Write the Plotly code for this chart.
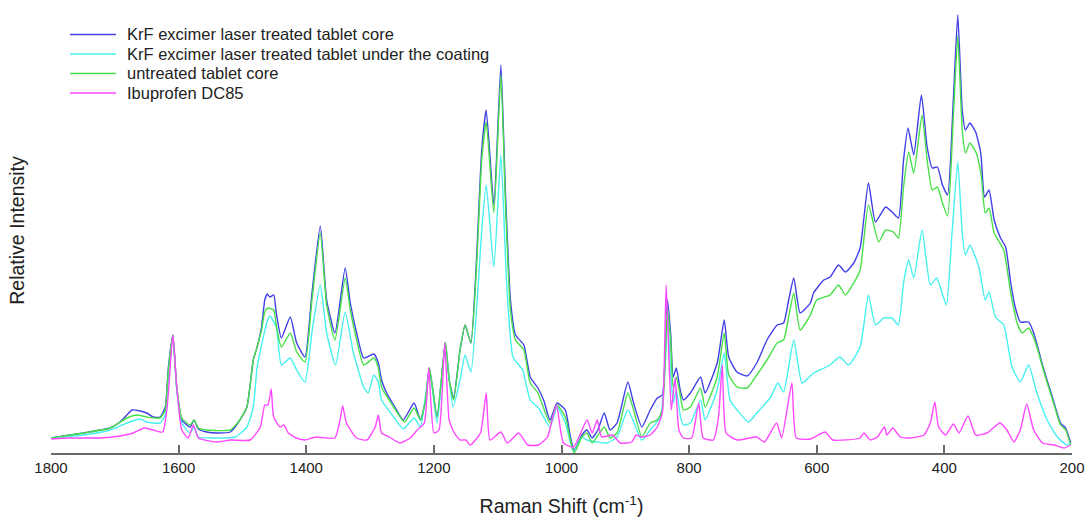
import plotly.graph_objects as go

# ---------------- data (Raman shift in cm-1, relative intensity in arbitrary units) ----------------
core_x = [1800, 1770, 1749, 1723, 1707, 1692, 1681, 1673, 1660, 1650, 1640, 1629, 1621, 1616, 1609, 1603,
          1595, 1582, 1576, 1569, 1556, 1540, 1519, 1504, 1493, 1483, 1477, 1470, 1465, 1461, 1457, 1451,
          1447, 1439, 1425, 1415, 1402, 1391, 1378, 1368, 1355, 1339, 1331, 1321, 1310, 1294, 1287, 1282,
          1274, 1263, 1248, 1231, 1221, 1213, 1207, 1195, 1182, 1176, 1169, 1159, 1151, 1142, 1133, 1125,
          1118, 1106, 1095, 1088, 1080, 1072, 1059, 1049, 1037, 1028, 1018, 1007, 994, 986, 980, 968,
          960, 952, 943, 933, 924, 913, 896, 887, 874, 861, 850, 842, 837, 834, 829, 825,
          820, 814, 809, 798, 782, 775, 756, 745, 738, 725, 709, 694, 678, 662, 652, 644,
          636, 626, 610, 605, 589, 579, 566, 555, 542, 532, 519, 508, 492, 482, 472, 464,
          457, 448, 436, 427, 419, 411, 403, 395, 386, 379, 372, 367, 360, 351, 343, 337,
          330, 322, 312, 304, 296, 289, 281, 268, 260, 244, 228, 218, 210, 202]
core_y = [15, 18, 20, 23, 25, 31, 38, 43, 42, 40, 36, 36, 46, 86, 118, 66,
          33, 26, 33, 24, 21, 20, 21, 33, 46, 93, 106, 126, 153, 159, 156, 158,
          140, 115, 136, 110, 96, 160, 227, 153, 120, 185, 150, 120, 95, 99, 90, 73,
          60, 48, 33, 50, 33, 53, 85, 36, 110, 73, 55, 103, 128, 110, 196, 303,
          343, 248, 388, 263, 153, 118, 108, 76, 65, 53, 33, 50, 43, 16, 3, 18,
          23, 15, 23, 40, 23, 30, 71, 50, 26, 43, 55, 58, 110, 153, 120, 76,
          85, 63, 53, 60, 76, 60, 90, 133, 96, 81, 77, 90, 113, 128, 130, 153,
          175, 140, 150, 160, 173, 176, 188, 181, 190, 205, 270, 231, 246, 241, 235, 293,
          325, 298, 358, 306, 285, 286, 268, 258, 353, 438, 343, 323, 330, 321, 300, 256,
          263, 233, 215, 206, 170, 146, 131, 131, 120, 83, 50, 30, 25, 10]

coat_x = [1800, 1749, 1707, 1681, 1660, 1650, 1629, 1621, 1616, 1609, 1603, 1595, 1582, 1576, 1569, 1540,
          1511, 1493, 1483, 1477, 1470, 1462, 1457, 1447, 1439, 1425, 1415, 1402, 1390, 1378, 1368, 1354,
          1339, 1326, 1310, 1303, 1294, 1287, 1282, 1263, 1248, 1231, 1221, 1207, 1195, 1182, 1170, 1159,
          1151, 1142, 1131, 1125, 1118, 1106, 1095, 1086, 1076, 1061, 1049, 1036, 1018, 1007, 994, 981,
          968, 960, 944, 929, 913, 896, 874, 861, 845, 837, 834, 829, 825, 820, 814, 809,
          798, 782, 775, 756, 745, 736, 725, 707, 694, 672, 661, 652, 636, 623, 605, 579,
          564, 550, 532, 519, 508, 495, 482, 472, 464, 456, 448, 435, 422, 412, 397, 388,
          379, 372, 367, 360, 346, 336, 330, 320, 307, 294, 281, 268, 255, 239, 223, 208, 202]
coat_y = [15, 18, 23, 30, 34, 31, 30, 38, 78, 116, 63, 30, 20, 26, 16, 15,
          16, 26, 46, 86, 108, 130, 137, 126, 88, 95, 83, 71, 126, 168, 120, 88,
          141, 100, 66, 60, 78, 71, 53, 36, 24, 35, 26, 83, 30, 106, 46, 73,
          98, 81, 163, 223, 268, 186, 298, 170, 96, 83, 53, 45, 26, 46, 30, 1,
          16, 13, 11, 10, 16, 43, 13, 23, 36, 93, 141, 83, 50, 63, 38, 28,
          30, 53, 33, 63, 100, 53, 43, 31, 40, 56, 70, 61, 113, 70, 80, 88,
          96, 88, 106, 158, 128, 135, 135, 128, 170, 193, 175, 223, 168, 175, 148, 220,
          291, 220, 198, 208, 186, 153, 161, 136, 128, 86, 71, 88, 60, 33, 16, 8, 10]

untreated_x = [1800, 1749, 1707, 1681, 1665, 1650, 1629, 1621, 1616, 1609, 1603, 1595, 1582, 1576, 1569, 1556,
               1519, 1504, 1493, 1483, 1477, 1470, 1465, 1460, 1451, 1447, 1439, 1425, 1415, 1402, 1391, 1378,
               1368, 1355, 1339, 1331, 1321, 1310, 1294, 1287, 1282, 1263, 1246, 1231, 1221, 1213, 1207, 1195,
               1182, 1176, 1169, 1159, 1151, 1142, 1133, 1125, 1118, 1106, 1095, 1088, 1080, 1072, 1059, 1049,
               1037, 1018, 1007, 994, 986, 980, 968, 960, 952, 933, 924, 913, 896, 887, 874, 861,
               850, 842, 837, 834, 829, 825, 820, 814, 809, 798, 782, 775, 756, 745, 738, 725,
               709, 694, 678, 662, 652, 644, 636, 626, 610, 600, 579, 566, 555, 542, 532, 519,
               503, 492, 480, 472, 464, 456, 448, 435, 427, 419, 411, 403, 395, 386, 379, 372,
               367, 360, 350, 342, 336, 330, 322, 307, 296, 286, 278, 268, 257, 244, 228, 218, 210, 202]
untreated_y = [15, 20, 25, 35, 38, 36, 35, 43, 83, 118, 66, 35, 28, 33, 25, 23,
               23, 33, 46, 93, 106, 123, 141, 145, 143, 128, 106, 120, 101, 91, 153, 220,
               148, 113, 175, 143, 113, 88, 95, 85, 66, 46, 31, 45, 33, 53, 85, 36,
               111, 73, 53, 103, 128, 110, 188, 293, 331, 240, 378, 253, 143, 113, 103, 70,
               60, 30, 48, 36, 13, 0, 16, 20, 10, 26, 15, 20, 60, 43, 16, 30,
               33, 43, 103, 146, 113, 66, 76, 58, 43, 46, 65, 46, 76, 120, 78, 66,
               65, 78, 93, 110, 113, 136, 160, 123, 138, 153, 158, 168, 158, 170, 183, 248,
               211, 223, 221, 215, 266, 301, 280, 338, 293, 263, 266, 250, 237, 336, 417, 323,
               300, 310, 300, 276, 240, 245, 220, 203, 160, 130, 120, 125, 110, 81, 48, 28, 23, 8]

ibu_x = [1800, 1770, 1723, 1692, 1671, 1654, 1640, 1625, 1618, 1609, 1603, 1595, 1585, 1577, 1569, 1540,
         1519, 1488, 1472, 1465, 1460, 1455, 1451, 1441, 1435, 1428, 1416, 1402, 1385, 1368, 1355, 1347,
         1343, 1337, 1321, 1305, 1292, 1287, 1282, 1270, 1253, 1237, 1226, 1215, 1208, 1200, 1192, 1183,
         1176, 1168, 1159, 1150, 1143, 1127, 1118, 1112, 1095, 1085, 1067, 1053, 1036, 1022, 1008, 997,
         981, 960, 952, 944, 937, 920, 908, 890, 883, 874, 861, 850, 842, 836, 828, 822,
         816, 809, 796, 785, 778, 762, 754, 748, 742, 725, 694, 682, 663, 655, 639, 632,
         610, 587, 575, 532, 526, 516, 505, 494, 490, 481, 469, 453, 432, 422, 415, 409,
         398, 386, 377, 363, 351, 333, 313, 302, 291, 281, 271, 260, 246, 228, 212, 202]
ibu_y = [14, 15, 15, 17, 20, 25, 23, 21, 46, 118, 66, 23, 15, 28, 15, 11,
         13, 13, 26, 48, 48, 64, 36, 26, 28, 20, 15, 13, 16, 15, 15, 33,
         47, 30, 15, 13, 26, 38, 20, 16, 10, 15, 23, 30, 85, 20, 23, 110,
         33, 20, 13, 13, 8, 20, 60, 13, 21, 10, 20, 8, 8, 16, 48, 10,
         6, 33, 20, 33, 16, 18, 10, 11, 18, 16, 18, 26, 40, 168, 43, 75,
         23, 15, 15, 50, 15, 13, 36, 88, 20, 13, 16, 11, 30, 15, 70, 15,
         14, 21, 13, 15, 20, 13, 16, 26, 18, 25, 16, 15, 18, 30, 51, 26,
         18, 29, 20, 37, 18, 20, 30, 23, 11, 23, 49, 23, 10, 8, 5, 8]

series_names = ["KrF excimer laser treated tablet core",
                "KrF excimer laser treated tablet under the coating",
                "untreated tablet core",
                "Ibuprofen DC85"]
series_colors = ["#4040e6", "#48f0f0", "#48e048", "#ff48ff"]

tick_vals = [1800, 1600, 1400, 1200, 1000, 800, 600, 400, 200]
tick_text = [str(v) for v in tick_vals]

# ---------------- figure ----------------
W, H = 1092, 517
ML, MR, MT, MB = 51, 20, 8, 64
FONT = "Liberation Sans, Arial, sans-serif"

fig = go.Figure()
for xs, ys, name, col in zip([core_x, coat_x, untreated_x, ibu_x],
                             [core_y, coat_y, untreated_y, ibu_y],
                             series_names, series_colors):
    fig.add_trace(go.Scatter(x=xs, y=ys, mode="lines", name=name, showlegend=False,
                             line=dict(color=col, width=1.4, shape="spline", smoothing=0.5)))

# legend drawn as sample lines + text (compact spacing as in the original)
pw = W - ML - MR
ph = H - MT - MB
def px_to_paper_x(px):
    return (px - ML) / pw
def py_to_paper_y(py):
    return 1 - (py - MT) / ph

leg_rows = [34.5, 54, 73.5, 93]
for name, col, row in zip(series_names, series_colors, leg_rows):
    fig.add_shape(type="line", xref="paper", yref="paper",
                  x0=px_to_paper_x(70), x1=px_to_paper_x(116),
                  y0=py_to_paper_y(row), y1=py_to_paper_y(row),
                  line=dict(color=col, width=1.6))
    fig.add_annotation(text=name, xref="paper", yref="paper",
                       x=px_to_paper_x(125), y=py_to_paper_y(row),
                       xanchor="left", yanchor="middle", showarrow=False,
                       font=dict(family=FONT, size=16.5, color="#222222"))

fig.update_layout(
    width=W, height=H,
    margin=dict(l=ML, r=MR, t=MT, b=MB, autoexpand=False),
    paper_bgcolor="white", plot_bgcolor="white",
    font=dict(family=FONT, size=15, color="#222222"),
    showlegend=False,
)
fig.update_xaxes(range=[1800, 200], tickmode="array", tickvals=tick_vals, ticktext=tick_text,
                 ticks="inside", ticklen=8, tickwidth=1.5, tickcolor="#6a6a6a",
                 showline=True, linecolor="#6a6a6a", linewidth=1.5, showgrid=False, zeroline=False,
                 automargin=False,
                 tickfont=dict(size=15, color="#222222"),
                 title=dict(text="Raman Shift (cm<sup>-1</sup>)", font=dict(size=19.5, color="#222222"), standoff=25))
fig.update_yaxes(range=[0, 445], showticklabels=False, ticks="", showline=False, showgrid=False,
                 zeroline=False, automargin=False,
                 title=dict(text="Relative Intensity", font=dict(size=19.5, color="#222222"), standoff=20))

fig.write_html("out.html", config={"displayModeBar": False},
               post_script="document.body.style.margin='0px';document.body.style.overflow='hidden';")
